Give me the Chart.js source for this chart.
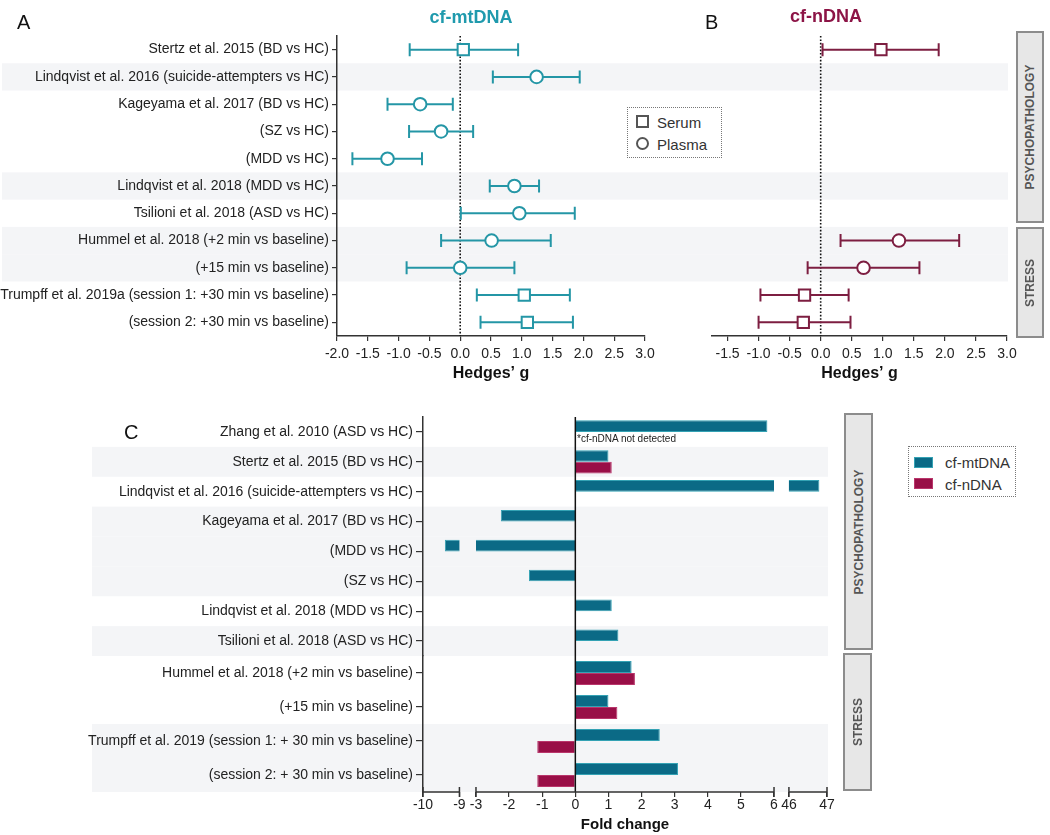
<!DOCTYPE html>
<html lang="en">
<head>
<meta charset="UTF-8">
<title>cf-mtDNA and cf-nDNA</title>
<script src="https://cdn.jsdelivr.net/npm/chart.js"></script>
<style>
  body { margin: 0; background: #fff; font-family: "Liberation Sans", Arial, sans-serif; }
  #fig { position: relative; width: 1050px; height: 835px; overflow: hidden; }
  .box { position: absolute; }
  .letter { position: absolute; font-size: 20px; line-height: 1; color: #111; }
  .ttl { position: absolute; font-size: 18px; font-weight: bold; line-height: 1; width: 120px; text-align: center; }
  .side { position: absolute; background: #e7e7e7; border: 2px solid #8c8c8c; box-sizing: border-box; }
  .side span { position: absolute; left: 50%; top: 50%; transform: translate(-50%, -50%) rotate(-90deg);
    font-size: 12px; font-weight: bold; color: #555; white-space: nowrap; }
  .legend { position: absolute; border: 1px dotted #777; background: #fff; box-sizing: border-box; }
  .legend span { position: absolute; font-size: 15px; line-height: 1; color: #333; white-space: nowrap; }
  .note { position: absolute; font-size: 10px; line-height: 1; color: #222; }
</style>
</head>
<body>
<div id="fig">
  <div class="box" style="left:0;top:0;width:690px;height:390px"><canvas id="chartA"></canvas></div>
  <div class="box" style="left:690px;top:0;width:340px;height:390px"><canvas id="chartB"></canvas></div>
  <div class="box" style="left:0;top:400px;width:850px;height:268px"><canvas id="chartC1"></canvas></div>
  <div class="box" style="left:0;top:644px;width:850px;height:191px"><canvas id="chartC2"></canvas></div>

  <div class="letter" style="left:17px;top:12px">A</div>
  <div class="letter" style="left:705px;top:12px">B</div>
  <div class="letter" style="left:124px;top:422px">C</div>
  <div class="ttl" style="left:411px;top:8px;color:#1f9aad">cf-mtDNA</div>
  <div class="ttl" style="left:766px;top:7px;color:#8c1446">cf-nDNA</div>

  <div class="legend" id="legA" style="left:627px;top:107px;width:95px;height:51px"></div>
  <div class="legend" id="legC" style="left:908px;top:446px;width:108px;height:51px"></div>

  <div class="side" style="left:1016px;top:31px;width:28px;height:192px"><span>PSYCHOPATHOLOGY</span></div>
  <div class="side" style="left:1016px;top:227px;width:28px;height:111px"><span>STRESS</span></div>
  <div class="side" style="left:844px;top:413px;width:29px;height:237px"><span>PSYCHOPATHOLOGY</span></div>
  <div class="side" style="left:843px;top:653px;width:29px;height:138px"><span>STRESS</span></div>

  <div class="note" style="left:577px;top:434px">*cf-nDNA not detected</div>
</div>

<script>
// ---- panels A and B: Hedges' g with 95% CI ----
const studiesAB = [
  'Stertz et al. 2015 (BD vs HC)',
  'Lindqvist et al. 2016 (suicide-attempters vs HC)',
  'Kageyama et al. 2017 (BD vs HC)',
  '(SZ vs HC)',
  '(MDD vs HC)',
  'Lindqvist et al. 2018 (MDD vs HC)',
  'Tsilioni et al. 2018 (ASD vs HC)',
  'Hummel et al. 2018 (+2 min vs baseline)',
  '(+15 min vs baseline)',
  'Trumpff et al. 2019a (session 1: +30 min vs baseline)',
  '(session 2: +30 min vs baseline)'
];
const sampleAB = ['Serum', 'Plasma', 'Plasma', 'Plasma', 'Plasma', 'Plasma', 'Plasma', 'Plasma', 'Plasma', 'Serum', 'Serum'];
const sampleTypes = ['Serum', 'Plasma'];

const mtG    = [0.05, 1.24, -0.65, -0.31, -1.18, 0.88, 0.96, 0.51, 0.00, 1.04, 1.09];
const mtLow  = [-0.82, 0.53, -1.18, -0.83, -1.75, 0.48, 0.01, -0.31, -0.87, 0.27, 0.33];
const mtHigh = [0.94, 1.94, -0.12, 0.21, -0.62, 1.28, 1.86, 1.47, 0.88, 1.78, 1.83];

const nG    = [0.97, null, null, null, null, null, null, 1.26, 0.69, -0.26, -0.28];
const nLow  = [0.03, null, null, null, null, null, null, 0.32, -0.21, -0.97, -1.00];
const nHigh = [1.90, null, null, null, null, null, null, 2.23, 1.59, 0.45, 0.48];

const hedgesTicksA = [-2, -1.5, -1, -0.5, 0, 0.5, 1, 1.5, 2, 2.5, 3];
const hedgesTicksB = [-1.5, -1, -0.5, 0, 0.5, 1, 1.5, 2, 2.5, 3];

// ---- panel C: fold change ----
const seriesNames = ['cf-mtDNA', 'cf-nDNA'];
const studiesPsy = [
  'Zhang et al. 2010 (ASD vs HC)',
  'Stertz et al. 2015 (BD vs HC)',
  'Lindqvist et al. 2016 (suicide-attempters vs HC)',
  'Kageyama et al. 2017 (BD vs HC)',
  '(MDD vs HC)',
  '(SZ vs HC)',
  'Lindqvist et al. 2018 (MDD vs HC)',
  'Tsilioni et al. 2018 (ASD vs HC)'
];
const foldMtPsy = [5.8, 1.0, 46.8, -2.25, -9.4, -1.4, 1.1, 1.3];
const foldNPsy  = [null, 1.1, null, null, null, null, null, null];

const studiesStress = [
  'Hummel et al. 2018 (+2 min vs baseline)',
  '(+15 min vs baseline)',
  'Trumpff et al. 2019 (session 1: + 30 min vs baseline)',
  '(session 2: + 30 min vs baseline)'
];
const foldMtStress = [1.7, 1.0, 2.55, 3.1];
const foldNStress  = [1.8, 1.27, -1.15, -1.15];

const foldTicks = [-10, -9, -3, -2, -1, 0, 1, 2, 3, 4, 5, 6, 46, 47];
const axisPieces = [[-10, -9], [-3, 6], [46, 47]];
const axisGaps = [[-9, -3], [6, 46]];

// broken axis: squeeze the outer pieces next to the -3..6 range
function toAxis(v) {
  if (v <= -9) return -3.5 + (v + 9) * 1.1;
  if (v >= 46) return 6.45 + (v - 46) * 1.15;
  return v;
}

const TEAL = '#2496a6';
const MAROON = '#7d1e41';
const MT_FILL = '#0b6a86', MT_EDGE = '#34a2b4';
const ND_FILL = '#990f47', ND_EDGE = '#b9366b';
const STRIPE = '#f4f5f7';

Chart.defaults.font.family = '"Liberation Sans", Arial, Helvetica, sans-serif';
Chart.defaults.color = '#222';

const stripes = {
  id: 'stripes',
  beforeDraw(chart, args, o) {
    const y = chart.scales.y, ctx = chart.ctx;
    const half = Math.abs(y.getPixelForValue(1) - y.getPixelForValue(0)) / 2;
    const right = o.toEdge ? chart.width : chart.chartArea.right + 1;
    ctx.save();
    ctx.fillStyle = STRIPE;
    o.rows.forEach(i => {
      const c = y.getPixelForValue(i);
      ctx.fillRect(o.left, c - half, right - o.left, half * 2);
    });
    ctx.restore();
  }
};

function drawZero(chart, o) {
  const x = chart.scales.x.getPixelForValue(0), a = chart.chartArea, ctx = chart.ctx;
  ctx.save();
  ctx.strokeStyle = o.color;
  ctx.lineWidth = o.width;
  ctx.setLineDash(o.dash || []);
  ctx.beginPath();
  ctx.moveTo(x, a.top);
  ctx.lineTo(x, a.bottom);
  ctx.stroke();
  ctx.restore();
}
const zeroLine = {
  id: 'zeroLine',
  beforeDatasetsDraw(chart, args, o) { if (!o.over) drawZero(chart, o); },
  afterDatasetsDraw(chart, args, o) { if (o.over) drawZero(chart, o); }
};

// keep bars out of the axis breaks
const breakClip = {
  id: 'breakClip',
  beforeDatasetsDraw(chart) {
    const x = chart.scales.x, a = chart.chartArea, ctx = chart.ctx;
    ctx.save();
    ctx.beginPath();
    let from = a.left;
    axisGaps.forEach(([g0, g1]) => {
      const p0 = x.getPixelForValue(toAxis(g0)), p1 = x.getPixelForValue(toAxis(g1));
      ctx.rect(from, a.top, p0 - from, a.bottom - a.top);
      from = p1;
    });
    ctx.rect(from, a.top, a.right - from, a.bottom - a.top);
    ctx.clip();
  },
  afterDatasetsDraw(chart) { chart.ctx.restore(); }
};

const brokenAxis = {
  id: 'brokenAxis',
  afterDraw(chart) {
    const x = chart.scales.x, y0 = chart.chartArea.bottom, ctx = chart.ctx;
    ctx.save();
    ctx.strokeStyle = '#333';
    ctx.lineWidth = 1.5;
    axisPieces.forEach(([a, b]) => {
      const p0 = x.getPixelForValue(toAxis(a)), p1 = x.getPixelForValue(toAxis(b));
      ctx.beginPath();
      ctx.moveTo(p0, y0); ctx.lineTo(p1, y0);
      ctx.moveTo(p0, y0 - 5); ctx.lineTo(p0, y0 + 5);
      ctx.moveTo(p1, y0 - 5); ctx.lineTo(p1, y0 + 5);
      ctx.stroke();
    });
    ctx.restore();
  }
};

const isSerum = c => c.raw && c.raw.s === 'Serum';

function forestChart(id, est, low, high, color, ticks, min, cfg) {
  const rows = est.map((v, i) => i).filter(i => est[i] != null);
  const markers = rows.map(i => ({ x: est[i], y: studiesAB[i], s: sampleAB[i] }));
  const caps = rows.flatMap(i => [{ x: low[i], y: studiesAB[i] }, { x: high[i], y: studiesAB[i] }]);
  const whiskers = est.map((v, i) => v == null ? null : [low[i], high[i]]);

  return new Chart(document.getElementById(id), {
    type: 'bar',
    data: {
      labels: studiesAB,
      datasets: [
        {
          type: 'scatter', data: markers,
          pointStyle: c => isSerum(c) ? 'rect' : 'circle',
          pointRadius: c => isSerum(c) ? 8 : 6.3,
          pointBackgroundColor: '#fff', pointBorderColor: color, pointBorderWidth: 2
        },
        {
          type: 'scatter', data: caps,
          pointStyle: 'line', pointRotation: 90, pointRadius: 6.5,
          pointBorderColor: color, pointBorderWidth: 2
        },
        { data: whiskers, backgroundColor: color, barThickness: 2, inflateAmount: 0 }
      ]
    },
    options: {
      indexAxis: 'y',
      responsive: true,
      maintainAspectRatio: false,
      animation: false,
      events: [],
      layout: { padding: cfg.pad },
      plugins: {
        legend: { display: false },
        tooltip: { enabled: false },
        stripes: { rows: [1, 5, 7, 8], left: cfg.stripeLeft, toEdge: cfg.toEdge },
        zeroLine: { color: '#111', width: 1.6, dash: [1.6, 1.8], over: false }
      },
      scales: {
        x: {
          type: 'linear', min: min, max: 3,
          afterBuildTicks: s => { s.ticks = ticks.map(v => ({ value: v })); },
          afterFit: s => { s.height = 54; },
          ticks: { callback: v => v.toFixed(1), font: { size: 14 }, padding: 5, autoSkip: false, maxRotation: 0, color: '#222' },
          grid: { drawOnChartArea: false, tickLength: 5, color: '#333', lineWidth: 1.2 },
          border: { color: '#333', width: 1.5 },
          title: { display: true, text: 'Hedges\u2019 g', font: { size: 16, weight: 'bold' }, color: '#111', padding: { top: 0, bottom: 7 } }
        },
        y: {
          type: 'category', offset: true, display: cfg.showY,
          afterFit: s => { if (cfg.showY) s.width = 337; },
          ticks: { font: { size: 14 }, padding: 3, color: '#222' },
          grid: { offset: false, drawOnChartArea: false, tickLength: 5, color: '#333', lineWidth: 1.2 },
          border: { color: '#333', width: 1.5 }
        }
      }
    },
    plugins: [stripes, zeroLine]
  });
}

forestChart('chartA', mtG, mtLow, mtHigh, TEAL, hedgesTicksA, -2,
  { pad: { top: 36, right: 45, bottom: 0, left: 0 }, showY: true, stripeLeft: 2, toEdge: true });
forestChart('chartB', nG, nLow, nHigh, MAROON, hedgesTicksB, -1.75,
  { pad: { top: 36, right: 23, bottom: 0, left: 22 }, showY: false, stripeLeft: 0, toEdge: false });

function foldChart(id, labels, mt, nd, cfg) {
  return new Chart(document.getElementById(id), {
    type: 'bar',
    data: {
      labels: labels,
      datasets: [
        { label: seriesNames[0], data: mt.map(toAxis), backgroundColor: MT_FILL, borderColor: MT_EDGE,
          borderWidth: 1, categoryPercentage: cfg.cat, barPercentage: 1 },
        { label: seriesNames[1], data: nd.map(v => v == null ? null : toAxis(v)), backgroundColor: ND_FILL, borderColor: ND_EDGE,
          borderWidth: 1, categoryPercentage: cfg.cat, barPercentage: 1 }
      ]
    },
    options: {
      indexAxis: 'y',
      responsive: true,
      maintainAspectRatio: false,
      animation: false,
      events: [],
      layout: { padding: cfg.pad },
      plugins: {
        legend: { display: false },
        tooltip: { enabled: false },
        stripes: { rows: cfg.stripes, left: 92, toEdge: false },
        zeroLine: { color: '#111', width: 1.5, over: true }
      },
      scales: {
        x: {
          type: 'linear', display: cfg.showX,
          min: toAxis(-10), max: toAxis(47),
          afterBuildTicks: s => { s.ticks = foldTicks.map(v => ({ value: toAxis(v) })); },
          afterFit: s => { if (cfg.showX) s.height = 43; },
          ticks: { callback: (v, i) => foldTicks[i], font: { size: 14 }, padding: 0, autoSkip: false, maxRotation: 0, color: '#222' },
          grid: { drawOnChartArea: false, tickLength: 5, color: '#333', lineWidth: 1.2 },
          border: { display: false },
          title: { display: true, text: 'Fold change', font: { size: 15, weight: 'bold' }, color: '#111', padding: { top: 0, bottom: 1 } }
        },
        y: {
          type: 'category', offset: true,
          afterFit: s => { s.width = 423; },
          ticks: { font: { size: 14 }, padding: 3, color: '#222' },
          grid: { offset: false, drawOnChartArea: false, tickLength: 7, color: '#333', lineWidth: 1.2 },
          border: { color: '#333', width: 1.5 }
        }
      }
    },
    plugins: cfg.showX ? [stripes, breakClip, zeroLine, brokenAxis] : [stripes, breakClip, zeroLine]
  });
}

foldChart('chartC1', studiesPsy, foldMtPsy, foldNPsy,
  { pad: { top: 17, right: 23, bottom: 12, left: 0 }, showX: false, cat: 0.775, stripes: [1, 3, 4, 5, 7] });
foldChart('chartC2', studiesStress, foldMtStress, foldNStress,
  { pad: { top: 12, right: 23, bottom: 0, left: 0 }, showX: true, cat: 0.71, stripes: [2, 3] });

// legends
const legA = document.getElementById('legA');
sampleTypes.forEach((t, k) => {
  const sym = document.createElement('span');
  sym.style.cssText = 'left:8px;top:' + (7 + k * 22) + 'px;width:13px;height:13px;box-sizing:border-box;border:2px solid #555;' +
    (t === 'Plasma' ? 'border-radius:50%;' : '');
  legA.appendChild(sym);
  const txt = document.createElement('span');
  txt.style.cssText = 'left:29px;top:' + (7 + k * 22) + 'px;';
  txt.textContent = t;
  legA.appendChild(txt);
});

const legC = document.getElementById('legC');
[[MT_FILL, MT_EDGE], [ND_FILL, ND_EDGE]].forEach(([fill, edge], k) => {
  const sw = document.createElement('span');
  sw.style.cssText = 'left:5px;top:' + (10 + k * 21) + 'px;width:19px;height:11px;box-sizing:border-box;background:' + fill + ';border:1px solid ' + edge + ';';
  legC.appendChild(sw);
  const txt = document.createElement('span');
  txt.style.cssText = 'left:36px;top:' + (8 + k * 22) + 'px;';
  txt.textContent = seriesNames[k];
  legC.appendChild(txt);
});
</script>
</body>
</html>
